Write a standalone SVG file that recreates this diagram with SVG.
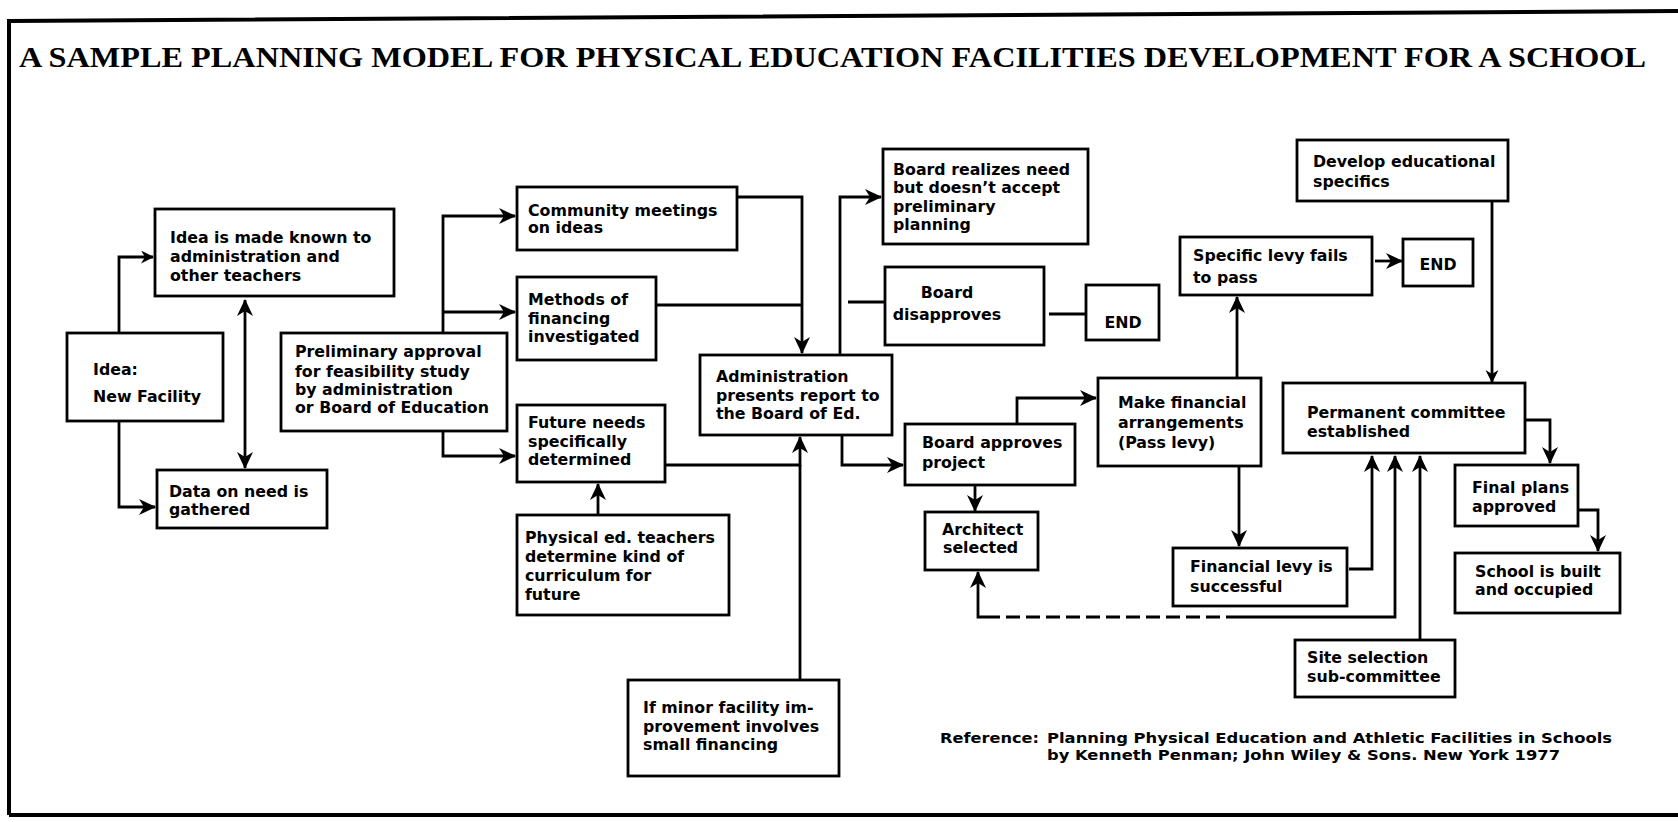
<svg xmlns="http://www.w3.org/2000/svg" width="1678" height="822" viewBox="0 0 1678 822">
<style>
.frame{fill:none;stroke:#000;stroke-width:4}
.box{fill:#fff;stroke:#000;stroke-width:2.8}
.t{font-family:"DejaVu Sans","Liberation Sans",sans-serif;font-weight:bold;font-size:15.8px;fill:#000}
.c{fill:none;stroke:#000;stroke-width:2.8}
.d{fill:none;stroke:#000;stroke-width:2.8;stroke-dasharray:14 6}
.title{font-family:"Liberation Serif","Times New Roman",serif;font-weight:bold;font-size:29px;fill:#000}
.ref{font-family:"DejaVu Sans","Liberation Sans",sans-serif;font-weight:bold;font-size:13.5px;fill:#000}
</style>
<defs>
<marker id="ah" markerUnits="userSpaceOnUse" markerWidth="20" markerHeight="20" refX="16" refY="8" orient="auto">
<path d="M0,0 L17,8 L0,16 L5,8 Z" fill="#000"/>
</marker>
<marker id="ahs" markerUnits="userSpaceOnUse" markerWidth="16" markerHeight="16" refX="12" refY="6.5" orient="auto">
<path d="M0,0 L13,6.5 L0,13 L4,6.5 Z" fill="#000"/>
</marker>
<marker id="ahb" markerUnits="userSpaceOnUse" markerWidth="20" markerHeight="20" refX="1" refY="8" orient="auto">
<path d="M17,0 L0,8 L17,16 L12,8 Z" fill="#000"/>
</marker>
</defs>
<rect width="1678" height="822" fill="#fff"/>
<g id="frame">
<path class="frame" d="M9,815 V21 L1678,11"/>
<path class="frame" d="M9,815 H1678"/>
<text class="title" x="19" y="67" textLength="1627" lengthAdjust="spacingAndGlyphs">A SAMPLE PLANNING MODEL FOR PHYSICAL EDUCATION FACILITIES DEVELOPMENT FOR A SCHOOL</text>
</g>
<g id="connectors">
<path class="c" d="M119,333 V257 H153" marker-end="url(#ahs)"/>
<path class="c" d="M119,421 V507 H155" marker-end="url(#ah)"/>
<path class="c" d="M245,300 V468" marker-start="url(#ahb)" marker-end="url(#ah)"/>
<path class="c" d="M443,333 V216 H515" marker-end="url(#ah)"/>
<path class="c" d="M443,312 H515" marker-end="url(#ah)"/>
<path class="c" d="M443,431 V456 H515" marker-end="url(#ah)"/>
<path class="c" d="M737,197 H802 V353" marker-end="url(#ah)"/>
<path class="c" d="M656,305 H802"/>
<path class="c" d="M665,465 H800 V437" marker-end="url(#ah)"/>
<path class="c" d="M800,680 V465"/>
<path class="c" d="M598,515 V484" marker-end="url(#ah)"/>
<path class="c" d="M840,355 V197 H881" marker-end="url(#ah)"/>
<path class="c" d="M848,302 H885"/>
<path class="c" d="M1049,314 H1085"/>
<path class="c" d="M842,435 V465 H903" marker-end="url(#ah)"/>
<path class="c" d="M1017,424 V398 H1096" marker-end="url(#ah)"/>
<path class="c" d="M975,485 V511" marker-end="url(#ah)"/>
<path class="c" d="M1237,378 V297" marker-end="url(#ah)"/>
<path class="c" d="M1375,261 H1402" marker-end="url(#ah)"/>
<path class="c" d="M1239,466 V546" marker-end="url(#ah)"/>
<path class="c" d="M1492,201 V382" marker-end="url(#ahs)"/>
<path class="c" d="M1349,569 H1372 V456" marker-end="url(#ah)"/>
<path class="c" d="M1000,617 H978 V572" marker-end="url(#ah)"/>
<path class="d" d="M1240,617 H1000"/>
<path class="c" d="M1240,617 H1395 V456" marker-end="url(#ah)"/>
<path class="c" d="M1420,640 V456" marker-end="url(#ah)"/>
<path class="c" d="M1525,420 H1550 V463" marker-end="url(#ah)"/>
<path class="c" d="M1578,510 H1598 V551" marker-end="url(#ah)"/>
</g>
<g id="n-idea"><rect class="box" x="67" y="333" width="156" height="88"/><text class="t" x="93" y="375">Idea:</text><text class="t" x="93" y="402">New Facility</text></g>
<g id="n-known"><rect class="box" x="155" y="209" width="239" height="87"/><text class="t" x="170" y="243">Idea is made known to</text><text class="t" x="170" y="262">administration and</text><text class="t" x="170" y="281">other teachers</text></g>
<g id="n-data"><rect class="box" x="157" y="470" width="170" height="58"/><text class="t" x="169" y="497">Data on need is</text><text class="t" x="169" y="515">gathered</text></g>
<g id="n-prelim"><rect class="box" x="281" y="333" width="226" height="98"/><text class="t" x="295" y="357">Preliminary approval</text><text class="t" x="295" y="377">for feasibility study</text><text class="t" x="295" y="395">by administration</text><text class="t" x="295" y="413">or Board of Education</text></g>
<g id="n-community"><rect class="box" x="517" y="187" width="220" height="63"/><text class="t" x="528" y="216">Community meetings</text><text class="t" x="528" y="233">on ideas</text></g>
<g id="n-methods"><rect class="box" x="517" y="277" width="139" height="83"/><text class="t" x="528" y="305">Methods of</text><text class="t" x="528" y="324">financing</text><text class="t" x="528" y="342">investigated</text></g>
<g id="n-future"><rect class="box" x="517" y="405" width="148" height="77"/><text class="t" x="528" y="428">Future needs</text><text class="t" x="528" y="447">specifically</text><text class="t" x="528" y="465">determined</text></g>
<g id="n-admin"><rect class="box" x="700" y="355" width="192" height="80"/><text class="t" x="716" y="382">Administration</text><text class="t" x="716" y="401">presents report to</text><text class="t" x="716" y="419">the Board of Ed.</text></g>
<g id="n-physed"><rect class="box" x="517" y="515" width="212" height="100"/><text class="t" x="525" y="543">Physical ed. teachers</text><text class="t" x="525" y="562">determine kind of</text><text class="t" x="525" y="581">curriculum for</text><text class="t" x="525" y="600">future</text></g>
<g id="n-minor"><rect class="box" x="628" y="680" width="211" height="96"/><text class="t" x="643" y="713">If minor facility im-</text><text class="t" x="643" y="732">provement involves</text><text class="t" x="643" y="750">small financing</text></g>
<g id="n-realizes"><rect class="box" x="883" y="149" width="205" height="95"/><text class="t" x="893" y="175">Board realizes need</text><text class="t" x="893" y="193">but doesn’t accept</text><text class="t" x="893" y="212">preliminary</text><text class="t" x="893" y="230">planning</text></g>
<g id="n-disapproves"><rect class="box" x="885" y="267" width="159" height="78"/><text class="t" x="947" y="298" text-anchor="middle">Board</text><text class="t" x="947" y="320" text-anchor="middle">disapproves</text></g>
<g id="n-end1"><rect class="box" x="1086" y="285" width="73" height="55"/><text class="t" x="1123" y="328" text-anchor="middle">END</text></g>
<g id="n-approves"><rect class="box" x="905" y="424" width="170" height="61"/><text class="t" x="922" y="448">Board approves</text><text class="t" x="922" y="468">project</text></g>
<g id="n-architect"><rect class="box" x="925" y="512" width="113" height="58"/><text class="t" x="942" y="535">Architect</text><text class="t" x="943" y="553">selected</text></g>
<g id="n-financial"><rect class="box" x="1098" y="378" width="163" height="88"/><text class="t" x="1118" y="408">Make financial</text><text class="t" x="1118" y="428">arrangements</text><text class="t" x="1118" y="448">(Pass levy)</text></g>
<g id="n-fails"><rect class="box" x="1180" y="237" width="192" height="58"/><text class="t" x="1193" y="261">Specific levy fails</text><text class="t" x="1193" y="283">to pass</text></g>
<g id="n-end2"><rect class="box" x="1403" y="239" width="70" height="47"/><text class="t" x="1438" y="270" text-anchor="middle">END</text></g>
<g id="n-develop"><rect class="box" x="1297" y="140" width="211" height="61"/><text class="t" x="1313" y="167">Develop educational</text><text class="t" x="1313" y="187">specifics</text></g>
<g id="n-permanent"><rect class="box" x="1283" y="383" width="242" height="70"/><text class="t" x="1307" y="418">Permanent committee</text><text class="t" x="1307" y="437">established</text></g>
<g id="n-levy"><rect class="box" x="1173" y="548" width="174" height="58"/><text class="t" x="1190" y="572">Financial levy is</text><text class="t" x="1190" y="592">successful</text></g>
<g id="n-site"><rect class="box" x="1295" y="640" width="160" height="57"/><text class="t" x="1307" y="663">Site selection</text><text class="t" x="1307" y="682">sub-committee</text></g>
<g id="n-final"><rect class="box" x="1455" y="465" width="123" height="61"/><text class="t" x="1472" y="493">Final plans</text><text class="t" x="1472" y="512">approved</text></g>
<g id="n-school"><rect class="box" x="1455" y="553" width="165" height="60"/><text class="t" x="1475" y="577">School is built</text><text class="t" x="1475" y="595">and occupied</text></g>
<g id="reference">
<text class="ref" x="940" y="743" textLength="99" lengthAdjust="spacingAndGlyphs">Reference:</text>
<text class="ref" x="1047" y="743" textLength="565" lengthAdjust="spacingAndGlyphs">Planning Physical Education and Athletic Facilities in Schools</text>
<text class="ref" x="1047" y="760" textLength="513" lengthAdjust="spacingAndGlyphs">by Kenneth Penman; John Wiley &amp; Sons. New York 1977</text>
</g>
</svg>
